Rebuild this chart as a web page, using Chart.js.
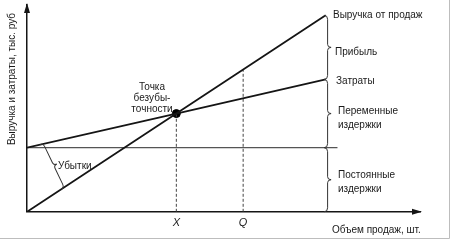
<!DOCTYPE html>
<html>
<head>
<meta charset="utf-8">
<script src="https://cdn.jsdelivr.net/npm/chart.js@4/dist/chart.umd.min.js"></script>
<style>
  html, body { margin: 0; padding: 0; background: #fff; }
  canvas { display: block; }
</style>
</head>
<body>
<canvas id="breakEvenChart" width="456" height="244"></canvas>
<script>
// volume of sales (arbitrary units along the x axis)
const volume = [0, 38, 76];
const revenue = [0, 47.5, 95];
const totalCost = [31, 47.5, 64];
const fixedVolume = [0, 79];
const fixedCost = [31, 31];
// dashed guides at X and Q
const tickVolumes = [38, 55];
const tickLabels = ['X', 'Q'];
const guideTops = [47.5, 68.75];
// brace for losses: from cost line down to revenue line
const lossVolume = [3.3, 8.7];
const lossValue = [32.4, 10.9];
// right hand braces: revenue top, costs, fixed, zero
const braceVolume = 75.6;
const braceLevels = [95, 64, 31, 0];

const ink = '#151515';
const font = '"Liberation Sans", Arial, sans-serif';

function brace(ctx, x1, y1, x2, y2, depth) {
    // curly brace from p1 to p2, tip on the left-hand side of p1->p2
    const dx = x2 - x1, dy = y2 - y1;
    const len = Math.sqrt(dx * dx + dy * dy);
    ctx.save();
    ctx.translate(x1, y1);
    ctx.rotate(Math.atan2(dy, dx));
    const h = len / 2, d = depth;
    ctx.beginPath();
    ctx.moveTo(0, 0);
    ctx.quadraticCurveTo(0, -d / 2, Math.min(4, h / 3), -d / 2);
    ctx.lineTo(h - 3, -d / 2);
    ctx.quadraticCurveTo(h, -d / 2, h, -d);
    ctx.quadraticCurveTo(h, -d / 2, h + 3, -d / 2);
    ctx.lineTo(len - Math.min(4, h / 3), -d / 2);
    ctx.quadraticCurveTo(len, -d / 2, len, 0);
    ctx.stroke();
    ctx.restore();
}

const annotations = {
    id: 'annotations',
    afterDraw(chart) {
        const ctx = chart.ctx;
        const xs = chart.scales.x, ys = chart.scales.y;
        const area = chart.chartArea;
        ctx.save();

        // frame of the figure
        ctx.strokeStyle = '#bdbdbd';
        ctx.lineWidth = 1;
        ctx.beginPath();
        ctx.moveTo(0, 238.5);
        ctx.lineTo(449.5, 238.5);
        ctx.lineTo(449.5, 0);
        ctx.stroke();

        // axis arrows
        ctx.fillStyle = ink;
        ctx.beginPath();
        ctx.moveTo(area.left, area.top - 2);
        ctx.lineTo(area.left - 3, area.top + 8);
        ctx.lineTo(area.left + 3, area.top + 8);
        ctx.fill();
        ctx.beginPath();
        ctx.moveTo(area.right + 2, area.bottom);
        ctx.lineTo(area.right - 8, area.bottom - 3);
        ctx.lineTo(area.right - 8, area.bottom + 3);
        ctx.fill();

        // braces on the right
        ctx.strokeStyle = '#333';
        ctx.lineWidth = 1;
        const bx = xs.getPixelForValue(braceVolume);
        for (let i = 0; i < braceLevels.length - 1; i++) {
            brace(ctx, bx, ys.getPixelForValue(braceLevels[i]), bx, ys.getPixelForValue(braceLevels[i + 1]), 7);
        }
        // losses brace
        brace(ctx, xs.getPixelForValue(lossVolume[0]), ys.getPixelForValue(lossValue[0]),
            xs.getPixelForValue(lossVolume[1]), ys.getPixelForValue(lossValue[1]), 7);

        // texts
        ctx.fillStyle = '#1a1a1a';
        ctx.font = '10px ' + font;
        ctx.textBaseline = 'middle';
        ctx.textAlign = 'left';
        ctx.fillText('Выручка от продаж', 333, 15);
        ctx.fillText('Прибыль', 335, 52);
        ctx.fillText('Затраты', 336, 81);
        ctx.fillText('Переменные', 338, 111);
        ctx.fillText('издержки', 338, 125);
        ctx.fillText('Постоянные', 338, 175);
        ctx.fillText('издержки', 338, 189);
        ctx.fillText('Убытки', 58, 166);
        ctx.fillText('Объем продаж, шт.', 332, 230);
        ctx.textAlign = 'center';
        ctx.fillText('Точка', 152, 87);
        ctx.fillText('безубы-', 152, 98);
        ctx.fillText('точности', 152, 109);

        // y axis title
        ctx.translate(12, 79);
        ctx.rotate(-Math.PI / 2);
        ctx.fillText('Выручка и затраты, тыс. руб', 0, 0);
        ctx.restore();
    }
};

const ctx = document.getElementById('breakEvenChart').getContext('2d');
new Chart(ctx, {
    type: 'scatter',
    data: {
        datasets: [
            {
                label: 'Выручка от продаж',
                data: volume.map((v, i) => ({ x: v, y: revenue[i] })),
                showLine: true,
                borderColor: ink,
                borderWidth: 1.8,
                pointRadius: 0
            },
            {
                label: 'Затраты',
                data: volume.map((v, i) => ({ x: v, y: totalCost[i] })),
                showLine: true,
                borderColor: ink,
                borderWidth: 1.8,
                pointRadius: 0
            },
            {
                label: 'Постоянные издержки',
                data: fixedVolume.map((v, i) => ({ x: v, y: fixedCost[i] })),
                showLine: true,
                borderColor: '#555',
                borderWidth: 1.2,
                pointRadius: 0
            },
            {
                label: 'X',
                data: [{ x: tickVolumes[0], y: 0 }, { x: tickVolumes[0], y: guideTops[0] }],
                showLine: true,
                borderColor: '#444',
                borderWidth: 1,
                borderDash: [3, 2],
                pointRadius: 0
            },
            {
                label: 'Q',
                data: [{ x: tickVolumes[1], y: 0 }, { x: tickVolumes[1], y: guideTops[1] }],
                showLine: true,
                borderColor: '#444',
                borderWidth: 1,
                borderDash: [3, 2],
                pointRadius: 0
            },
            {
                label: 'Точка безубыточности',
                data: [{ x: volume[1], y: revenue[1] }],
                pointRadius: 4,
                pointBackgroundColor: '#000',
                pointBorderColor: '#000'
            }
        ]
    },
    options: {
        responsive: false,
        animation: false,
        layout: { padding: { left: 27, right: 36, top: 5, bottom: 9 } },
        plugins: {
            legend: { display: false },
            tooltip: { enabled: false }
        },
        scales: {
            x: {
                type: 'linear',
                min: 0,
                max: 100,
                afterBuildTicks: axis => { axis.ticks = tickVolumes.map(v => ({ value: v })); },
                ticks: {
                    autoSkip: false,
                    padding: 5,
                    color: '#1a1a1a',
                    font: { family: font, size: 11, style: 'italic' },
                    callback: value => tickLabels[tickVolumes.indexOf(value)]
                },
                grid: { display: false, drawTicks: false },
                border: { display: true, color: ink, width: 1.5 }
            },
            y: {
                min: 0,
                max: 100,
                ticks: { display: false },
                grid: { display: false, drawTicks: false },
                border: { display: true, color: ink, width: 1.5 }
            }
        }
    },
    plugins: [annotations]
});
</script>
</body>
</html>
